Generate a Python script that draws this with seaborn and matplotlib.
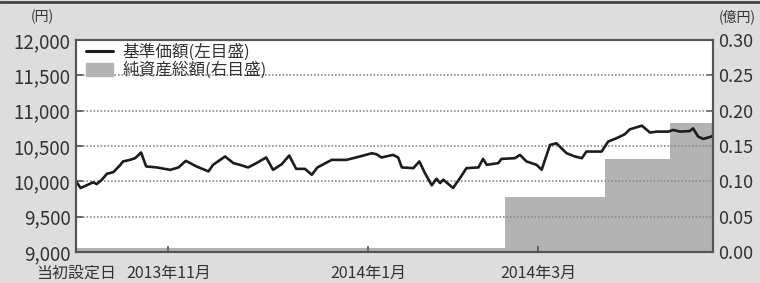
import matplotlib.pyplot as plt
import seaborn as sns
from matplotlib.lines import Line2D
from matplotlib.patches import Patch

# 基準価額(円)  x は当初設定日からの営業日
nav_day = [0, 1.0, 2.3, 3.7, 4.5, 5.6, 6.7, 8.1, 9.5, 10.2, 11.7, 12.8, 14.1, 15.2,
           17.5, 20.4, 22.2, 23.8, 26.1, 28.7, 29.7, 32.3, 34.1, 35.5, 37.3, 39.1,
           41.2, 42.7, 44.6, 46.2, 47.7, 49.6, 51.1, 52.3, 55.4, 58.6, 61.5, 64.1,
           65.1, 66.2, 68.7, 69.8, 70.6, 73.1, 74.4, 75.6, 77.1, 78.1, 78.9, 79.6,
           81.7, 83.2, 84.6, 87.2, 88.2, 89.0, 91.5, 92.2, 95.1, 96.2, 97.6, 99.8,
           100.9, 102.7, 104.1, 106.3, 108.1, 109.6, 110.6, 113.9, 115.3, 117.1,
           118.9, 120.0, 122.6, 124.4, 125.8, 128.3, 129.4, 130.9, 133.0, 133.7,
           134.8, 135.9, 137.7, 138]
nav_yen = [10000, 9906, 9944, 9986, 9962, 10023, 10107, 10131, 10225, 10282, 10304,
           10328, 10408, 10211, 10197, 10163, 10197, 10290, 10211, 10141, 10234,
           10352, 10258, 10234, 10197, 10258, 10338, 10163, 10244, 10366, 10177,
           10177, 10093, 10197, 10304, 10304, 10352, 10398, 10384, 10338, 10375,
           10338, 10197, 10187, 10282, 10117, 9944, 10037, 9976, 10023, 9906,
           10046, 10187, 10197, 10318, 10234, 10258, 10318, 10328, 10375, 10282,
           10234, 10163, 10515, 10539, 10398, 10352, 10328, 10422, 10422, 10563,
           10610, 10666, 10736, 10788, 10690, 10704, 10704, 10727, 10704, 10712,
           10750, 10634, 10600, 10634, 10652]

# 純資産総額(億円)
aum_day = [0, 92.9, 114.7, 128.8, 138]
aum_oku = [0.005, 0.078, 0.131, 0.183, 0.183]

tick_days = [0, 20, 63.3, 100.1]
tick_labels = ['当初設定日', '2013年11月', '2014年1月', '2014年3月']
yen_ticks = [9000, 9500, 10000, 10500, 11000, 11500, 12000]
oku_ticks = [0.00, 0.05, 0.10, 0.15, 0.20, 0.25, 0.30]

sns.set_theme(style='white')
plt.rcParams['font.family'] = ['Noto Sans CJK JP', 'DejaVu Sans']

line_col = '#1c1c1c'
area_col = '#b3b3b3'
edge_col = '#555555'
text_col = '#333333'

fig = plt.figure(figsize=(7.6, 2.83), dpi=100, facecolor='#dddddd')
ax = fig.add_axes([0.1, 0.1095, 0.838, 0.749])
ax2 = ax.twinx()

# 純資産総額 -> 右軸
ax2.fill_between(aum_day, aum_oku, step='post', color=area_col, lw=0)
ax2.patch.set_visible(True)
ax2.set_facecolor('white')
ax.set_zorder(ax2.get_zorder() + 1)
ax.patch.set_visible(False)

# 基準価額 -> 左軸
sns.lineplot(x=nav_day, y=nav_yen, ax=ax, color=line_col, lw=1.9, sort=False)

ax.set_xlim(0, 138)
ax.set_ylim(9000, 12000)
ax2.set_ylim(0, 0.30)

ax.set_yticks(yen_ticks, [f'{v:,}' for v in yen_ticks])
ax2.set_yticks(oku_ticks, [f'{v:.2f}' for v in oku_ticks])
ax.set_xticks(tick_days, tick_labels)

ax.yaxis.grid(True, ls=(0, (1, 1.1)), color='#8c8c8c', lw=1.2)
ax.xaxis.grid(False)
ax2.grid(False)

ax.tick_params(axis='y', direction='in', length=5, width=1.2, color=edge_col,
               labelsize=13.5, labelcolor=text_col, pad=4)
ax2.tick_params(axis='y', direction='in', length=5, width=1.2, color=edge_col,
                labelsize=13, labelcolor=text_col, pad=4)
ax.tick_params(axis='x', direction='in', length=4, width=1.2, color=edge_col,
               labelsize=11.5, labelcolor=text_col, pad=9)
ax.tick_params(left=True, bottom=True)
ax2.tick_params(right=True)

for a in (ax, ax2):
    for s in a.spines.values():
        s.set_color(edge_col)
        s.set_linewidth(1.5)

handles = [Line2D([], [], color=line_col, lw=2.2), Patch(color=area_col)]
ax.legend(handles, ['基準価額(左目盛)', '純資産総額(右目盛)'], loc='upper left',
          bbox_to_anchor=(0.0, 1.03), frameon=False, fontsize=12,
          handlelength=1.6, handleheight=0.9, labelspacing=0.05,
          borderaxespad=0.2, handletextpad=0.6, labelcolor=text_col)

fig.text(42 / 760, 1 - 17 / 283, '(円)', ha='center', va='center', fontsize=10, color=text_col)
fig.text(737 / 760, 1 - 17 / 283, '(億円)', ha='center', va='center', fontsize=10, color=text_col)
fig.add_artist(Line2D([0, 1], [1 - 2 / 283] * 2, color='#444444', lw=2))

fig.savefig('out.png', dpi=100, facecolor=fig.get_facecolor())
